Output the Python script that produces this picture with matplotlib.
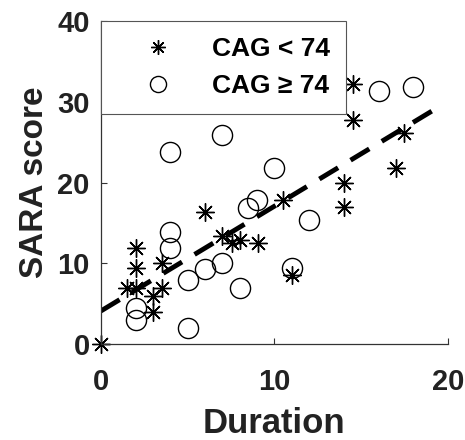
import numpy as np
import matplotlib.pyplot as plt

plt.rcParams['font.family'] = ['Liberation Sans', 'DejaVu Sans']
plt.rcParams['font.weight'] = 'bold'

# CAG < 74 (asterisks)
low_x = [0, 14.55, 14.55, 17.5, 17.0, 14.0, 14.0, 10.5, 6.0, 7.0, 7.55, 8.0, 9.05,
         11.0, 2.0, 2.0, 3.5, 1.5, 2.0, 3.5, 3.0, 3.0]
low_y = [0, 32.2, 27.8, 26.2, 21.8, 19.9, 17.0, 17.8, 16.4, 13.4, 12.5, 12.9, 12.5,
         8.5, 11.9, 9.45, 10.0, 7.0, 7.0, 7.0, 6.0, 4.0]

# CAG >= 74 (circles)
high_x = [18.0, 16.05, 7.0, 4.0, 10.0, 9.0, 8.5, 12.0, 4.0, 4.0, 7.0, 6.0, 11.0,
          5.0, 8.0, 2.0, 2.0, 5.0]
high_y = [31.8, 31.4, 25.9, 23.8, 21.8, 17.9, 16.9, 15.4, 13.9, 11.9, 10.0, 9.3, 9.4,
          7.9, 7.0, 4.5, 3.0, 2.0]

# linear fit endpoints
fit_x = [0, 19.5]
fit_y = [4.1, 29.4]

fig = plt.figure(figsize=(4.65, 4.4), dpi=100)
ax = fig.add_axes([0.217, 0.218, 0.746, 0.734])

ax.plot(low_x, low_y, linestyle='none', marker=(8, 2, 0), markersize=13,
        markeredgewidth=1.0, color='black', label='CAG < 74', clip_on=False)
ax.plot(high_x, high_y, linestyle='none', marker='o', markersize=14.5,
        markerfacecolor='none', markeredgewidth=1.0, color='black',
        label='CAG \u2265 74', clip_on=False)
ax.plot(fit_x, fit_y, color='black', linewidth=3.5, dashes=(4.5, 3))

ax.set_xlim(0, 20)
ax.set_ylim(0, 40)
ax.set_xticks([0, 10, 20])
ax.set_yticks([0, 10, 20, 30, 40])
ax.spines['top'].set_visible(False)
ax.spines['right'].set_visible(False)
for s in ['left', 'bottom']:
    ax.spines[s].set_color('#333333')
    ax.spines[s].set_linewidth(0.9)
ax.tick_params(direction='in', length=4, width=0.8, color='#333333',
               labelsize=21)
ax.tick_params(axis='x', pad=17)
ax.tick_params(axis='y', pad=8)
for lab in ax.get_xticklabels() + ax.get_yticklabels():
    lab.set_fontweight('bold')
    lab.set_color('#222222')

ax.set_xlabel('Duration', fontsize=25, fontweight='bold', color='#222222', labelpad=8)
ax.set_ylabel('SARA score', fontsize=24, fontweight='bold', color='#222222', labelpad=5)

leg = ax.legend(loc='upper left', bbox_to_anchor=(0, 1.0), borderaxespad=0,
                fancybox=False, framealpha=1, edgecolor='#555555',
                prop={'weight': 'bold', 'size': 19}, handletextpad=0.5,
                borderpad=0.6, labelspacing=0.5, handlelength=3.1,
                markerscale=0.8)
leg.get_frame().set_linewidth(0.8)

fig.savefig('out.png', dpi=100)
